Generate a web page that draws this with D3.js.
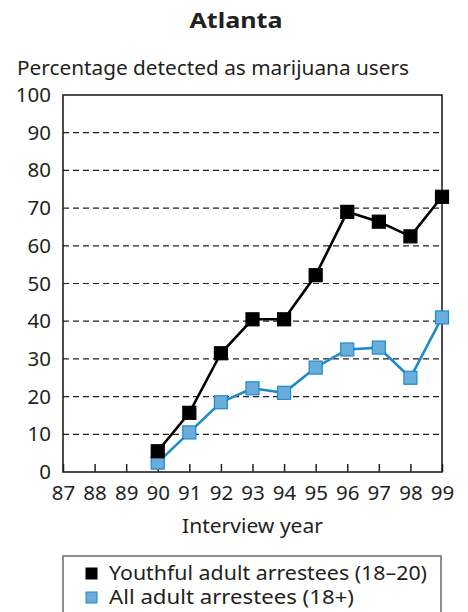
<!DOCTYPE html>
<html>
<head>
<meta charset="utf-8">
<script src="https://cdn.jsdelivr.net/npm/d3@7"></script>
<style>
  body { margin: 0; background: #fff; }
  text { font-family: "Noto Sans", "Open Sans", sans-serif; fill: #231f20; }
</style>
</head>
<body>
<div id="chart"></div>
<script>
// data
let years = [87, 88, 89, 90, 91, 92, 93, 94, 95, 96, 97, 98, 99];
let dataYears = [90, 91, 92, 93, 94, 95, 96, 97, 98, 99];
let youthful = [5.5, 15.7, 31.5, 40.5, 40.5, 52.2, 69, 66.4, 62.5, 73];
let allAdult = [2.5, 10.5, 18.5, 22.2, 21, 27.7, 32.5, 33, 25, 41];
let yTicks = [0, 10, 20, 30, 40, 50, 60, 70, 80, 90, 100];
let seriesNames = ['Youthful adult arrestees (18\u201320)', 'All adult arrestees (18+)'];

let W = 468, H = 612;
let margin = {top: 95, right: 26, bottom: 140, left: 63};
let width = W - margin.left - margin.right,
    height = H - margin.top - margin.bottom;

let svg = d3.select('#chart').append('svg')
  .attr('width', W)
  .attr('height', H);

let x = d3.scaleLinear().domain([87, 99]).range([0, width]);
let y = d3.scaleLinear().domain([0, 100]).range([height, 0]);

let g = svg.append('g')
  .attr('transform', `translate(${margin.left},${margin.top})`);

// title + y label
svg.append('text')
  .attr('x', 236).attr('y', 28)
  .attr('text-anchor', 'middle')
  .style('font-weight', 'bold')
  .style('font-size', '21px')
  .attr('textLength', 93)
  .attr('lengthAdjust', 'spacingAndGlyphs')
  .text('Atlanta');

svg.append('text')
  .attr('x', 17).attr('y', 75)
  .style('font-size', '19px')
  .attr('textLength', 392)
  .attr('lengthAdjust', 'spacingAndGlyphs')
  .text('Percentage detected as marijuana users');

// dashed gridlines
g.selectAll('.grid')
  .data(yTicks.filter(d => d > 0 && d < 100))
  .enter().append('line')
    .attr('class', 'grid')
    .attr('x1', 0).attr('x2', width)
    .attr('y1', d => y(d)).attr('y2', d => y(d))
    .attr('stroke', '#231f20')
    .attr('stroke-width', 1.2)
    .attr('stroke-dasharray', '6,4');

// y axis
let yAxis = g.append('g')
  .call(d3.axisLeft(y).tickValues(yTicks).tickSize(0).tickPadding(12));
yAxis.select('.domain').remove();
yAxis.selectAll('text').style('font-size', '20.5px').attr('fill', '#231f20');

// x axis with ticks pointing up
let xAxis = g.append('g')
  .attr('transform', `translate(0,${height})`)
  .call(d3.axisBottom(x).tickValues(years).tickSize(-8).tickPadding(13));
xAxis.select('.domain').remove();
xAxis.selectAll('line').attr('stroke', '#231f20').attr('stroke-width', 1.5);
xAxis.selectAll('text').style('font-size', '20.5px').attr('fill', '#231f20');

// frame
g.append('rect')
  .attr('width', width).attr('height', height)
  .attr('fill', 'none')
  .attr('stroke', '#231f20')
  .attr('stroke-width', 1.6);

svg.append('text')
  .attr('x', 182).attr('y', 533)
  .style('font-size', '19px')
  .attr('textLength', 141)
  .attr('lengthAdjust', 'spacingAndGlyphs')
  .text('Interview year');

// series
let series = [
  {name: seriesNames[0], values: youthful, line: '#000', fill: '#000', stroke: '#000', len: 318},
  {name: seriesNames[1], values: allAdult, line: '#1b8bc9', fill: '#6aaddc', stroke: '#1b8bc9', len: 245}
];

let line = d3.line()
  .x((d, i) => x(dataYears[i]))
  .y(d => y(d));

let ms = 13;
series.slice().reverse().forEach(s => {
  g.append('path')
    .datum(s.values)
    .attr('d', line)
    .attr('fill', 'none')
    .attr('stroke', s.line)
    .attr('stroke-width', 2.6);

  g.selectAll(null)
    .data(s.values)
    .enter().append('rect')
      .attr('x', (d, i) => x(dataYears[i]) - ms / 2)
      .attr('y', d => y(d) - ms / 2)
      .attr('width', ms).attr('height', ms)
      .attr('fill', s.fill)
      .attr('stroke', s.stroke)
      .attr('stroke-width', 1.2);
});

// legend
let legend = svg.append('g').attr('transform', 'translate(63,556)');
legend.append('rect')
  .attr('width', 378).attr('height', 70)
  .attr('fill', 'none')
  .attr('stroke', '#444')
  .attr('stroke-width', 1.2);

series.forEach((s, i) => {
  let row = legend.append('g').attr('transform', `translate(0,${18 + i * 24})`);
  row.append('rect')
    .attr('x', 23).attr('y', -6)
    .attr('width', 11).attr('height', 11)
    .attr('fill', s.fill)
    .attr('stroke', s.stroke)
    .attr('stroke-width', 1);
  row.append('text')
    .attr('x', 46).attr('y', 5.5)
    .style('font-size', '19px')
    .attr('textLength', s.len)
    .attr('lengthAdjust', 'spacingAndGlyphs')
    .text(s.name);
});
</script>
</body>
</html>
